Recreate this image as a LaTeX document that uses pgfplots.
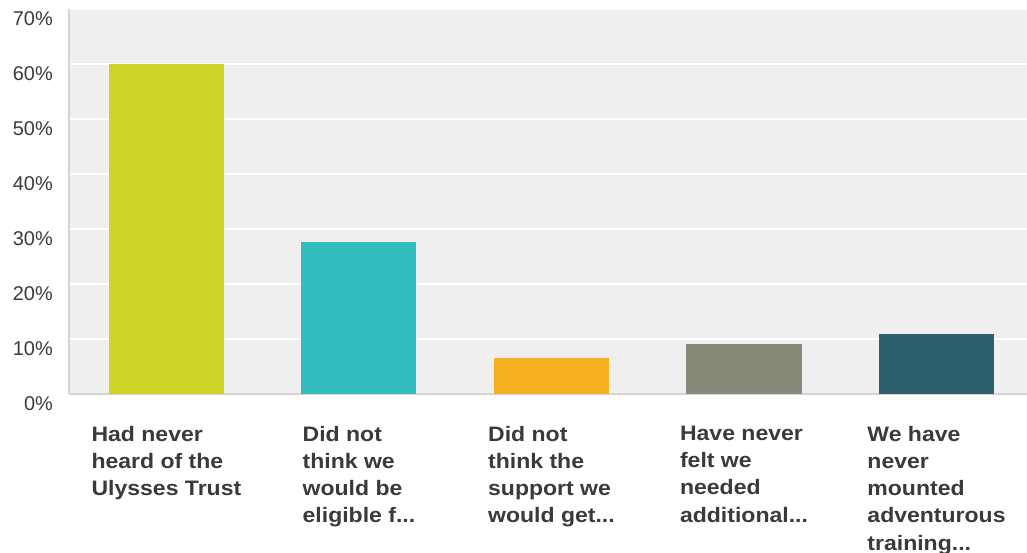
\documentclass[border=0pt]{standalone}
\usepackage{pgfplots}
\pgfplotsset{compat=1.18}
\usepackage{fontspec}
\setmainfont{Liberation Sans}
\newfontfamily\catfont[FakeStretch=1.1]{Liberation Sans}
\definecolor{bggray}{HTML}{EFEFEF}
\definecolor{axgray}{HTML}{D4D4D4}
\definecolor{txt}{HTML}{3A3A3A}
\definecolor{cA}{HTML}{CDD426}
\definecolor{cB}{HTML}{33BDBF}
\definecolor{cC}{HTML}{F6B020}
\definecolor{cD}{HTML}{878A78}
\definecolor{cE}{HTML}{2E5F6D}
\newcommand{\dd}{.{}.{}.}
\begin{document}
\begin{tikzpicture}
\path[use as bounding box] (0,0) rectangle (1027bp,553bp);
\begin{axis}[
  at={(69bp,159bp)}, anchor=south west,
  scale only axis, width=958bp, height=385bp,
  xmin=-0.506, xmax=4.47, ymin=0, ymax=70,
  axis background/.style={fill=bggray},
  axis x line*=bottom, axis y line*=left,
  axis line style={axgray, line width=1.6bp, -},
  ymajorgrids, grid style={white, line width=1.5bp},
  major tick length=0pt,
  ytick={0,10,20,30,40,50,60,70},
  yticklabels={0\%,10\%,20\%,30\%,40\%,50\%,60\%,70\%},
  yticklabel style={anchor=east, inner sep=0pt, xshift=-16bp, yshift=-10bp,
    font=\fontsize{20}{24}\selectfont, text=txt},
  xtick={0,1,2,3,4},
  xticklabels={{Had never\\heard of the\\Ulysses Trust},
    {Did not\\think we\\would be\\eligible f\dd},
    {Did not\\think the\\support we\\would get\dd},
    {Have never\\felt we\\needed\\additional\dd},
    {We have\\never\\mounted\\adventurous\\training\dd}},
  xticklabel style={anchor=north, align=left, inner sep=0pt, yshift=-32bp,
    font=\catfont\fontsize{21}{27.3}\selectfont\bfseries, text=txt},
  ybar, bar shift=0pt, bar width=115bp,
  clip=false,
]
\addplot[fill=cA, draw=none] coordinates {(0,60)};
\addplot[fill=cB, draw=none] coordinates {(1,27.6)};
\addplot[fill=cC, draw=none] coordinates {(2,6.6)};
\addplot[fill=cD, draw=none] coordinates {(3,9.1)};
\addplot[fill=cE, draw=none] coordinates {(4,10.9)};
\end{axis}
\end{tikzpicture}
\end{document}
